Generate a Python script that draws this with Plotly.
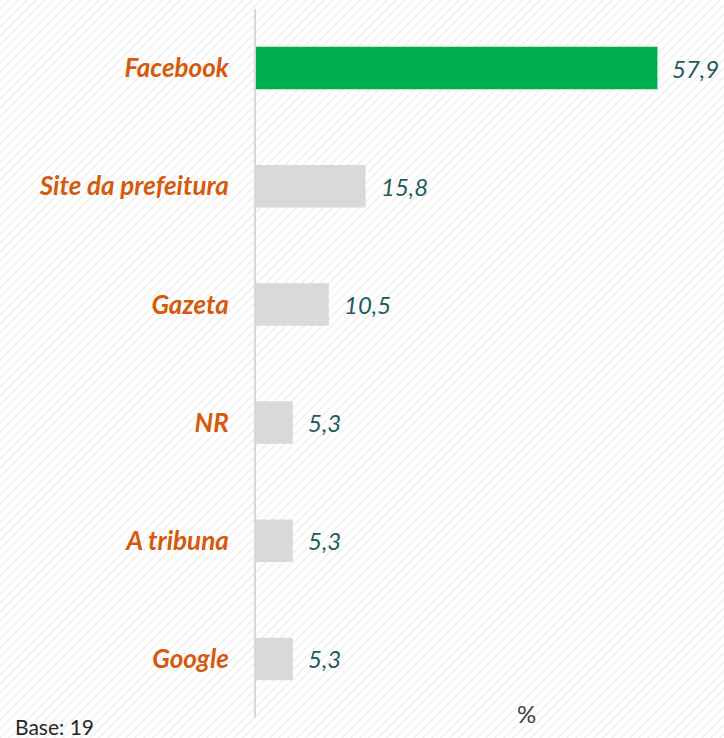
import base64
import plotly.graph_objects as go

categories = ["Facebook", "Site da prefeitura", "Gazeta", "NR", "A tribuna", "Google"]
values = [57.9, 15.8, 10.5, 5.3, 5.3, 5.3]
value_labels = ["57,9", "15,8", "10,5", "5,3", "5,3", "5,3"]
bar_colors = ["#00B050", "#D9D9D9", "#D9D9D9", "#D9D9D9", "#D9D9D9", "#D9D9D9"]

FONT = "Lato, 'Open Sans', sans-serif"

svg = (
    '<svg xmlns="http://www.w3.org/2000/svg" width="724" height="738">'
    '<defs><pattern id="p" width="9" height="9" patternUnits="userSpaceOnUse">'
    '<path d="M-2,2 l4,-4 M0,9 l9,-9 M7,11 l4,-4" stroke="#F1F1F1" stroke-width="1.6"/>'
    '</pattern></defs><rect width="724" height="738" fill="#FFFFFF"/>'
    '<rect width="724" height="738" fill="url(#p)"/></svg>'
)
svg_uri = "data:image/svg+xml;base64," + base64.b64encode(svg.encode()).decode()

fig = go.Figure()
fig.add_trace(go.Bar(
    y=categories, x=values, orientation="h",
    marker=dict(color=bar_colors, line=dict(width=0)),
    width=0.36, hoverinfo="skip",
))

for c, v, t in zip(categories, values, value_labels):
    fig.add_annotation(
        x=v, y=c, xref="x", yref="y", text=t, showarrow=False,
        xanchor="left", yanchor="middle", xshift=13,
        font=dict(family=FONT, size=24, color="#1F5B5B", style="italic"),
    )

fig.add_annotation(
    x=(526 - 256) / 468, y=0, xref="paper", yref="paper", text="%", showarrow=False,
    xanchor="center", yanchor="middle", yshift=5,
    font=dict(family=FONT, size=24, color="#404040"),
)
fig.add_annotation(
    x=-243 / 468, y=0, xref="paper", yref="paper", text="Base: 19", showarrow=False,
    xanchor="left", yanchor="bottom", yshift=-23,
    font=dict(family=FONT, size=21, color="#262626"),
)

fig.update_layout(
    width=724, height=738,
    margin=dict(l=256, r=0, t=9, b=20),
    paper_bgcolor="rgba(0,0,0,0)", plot_bgcolor="rgba(0,0,0,0)",
    showlegend=False,
    bargap=0.64,
    images=[dict(source=svg_uri, xref="paper", yref="paper",
                 x=-256/468, y=1 + 9/709, sizex=724/468, sizey=738/709,
                 xanchor="left", yanchor="top", sizing="stretch", layer="below")],
    xaxis=dict(range=[0, 67.5], showgrid=False, zeroline=False, showticklabels=False,
               showline=False, fixedrange=True),
    yaxis=dict(autorange="reversed", showgrid=False, zeroline=False,
               showline=True, linecolor="#D9D9D9", linewidth=2,
               ticks="", ticklabelstandoff=20,
               tickfont=dict(family=FONT, size=26, color="#D55A0C", weight="bold", style="italic")),
)

fig.write_html("out.html", config={"displayModeBar": False},
               post_script="document.body.style.margin='0';document.body.style.overflow='hidden';")
